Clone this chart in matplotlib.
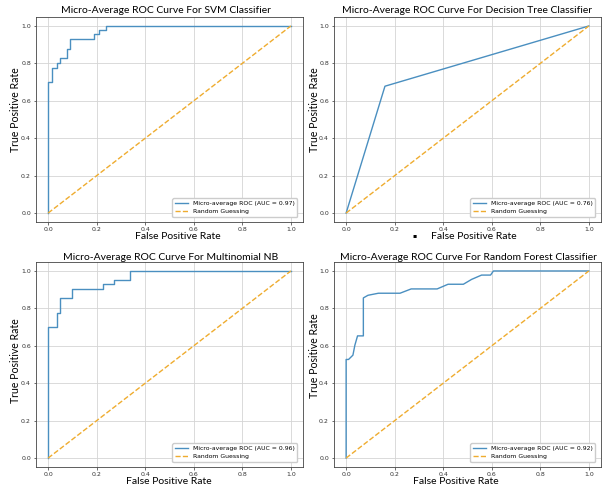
import numpy as np
import matplotlib
matplotlib.use("Agg")
import matplotlib.pyplot as plt

# titles / aucs for the four classifiers
titles = [
    "Micro-Average ROC Curve For SVM Classifier",
    "Micro-Average ROC Curve For Decision Tree Classifier",
    "Micro-Average ROC Curve For Multinomial NB",
    "Micro-Average ROC Curve For Random Forest Classifier",
]
aucs = [0.97, 0.76, 0.96, 0.92]

# ROC points
svm_fpr = [0, 0, 0.015, 0.015, 0.035, 0.035, 0.05, 0.05, 0.076, 0.076, 0.09, 0.09,
           0.187, 0.187, 0.21, 0.21, 0.238, 0.238, 1.0]
svm_tpr = [0, 0.70, 0.70, 0.775, 0.775, 0.80, 0.80, 0.83, 0.83, 0.878, 0.878, 0.93,
           0.93, 0.955, 0.955, 0.978, 0.978, 1.0, 1.0]

dt_fpr = [0, 0.16, 1.0]
dt_tpr = [0, 0.678, 1.0]

nb_fpr = [0, 0, 0.038, 0.038, 0.05, 0.05, 0.1, 0.1, 0.225, 0.225, 0.273, 0.273,
          0.338, 0.338, 1.0]
nb_tpr = [0, 0.70, 0.70, 0.777, 0.777, 0.853, 0.853, 0.902, 0.902, 0.928, 0.928,
          0.953, 0.953, 1.0, 1.0]

rf_fpr = [0, 0, 0.01, 0.028, 0.036, 0.047, 0.071, 0.071, 0.09, 0.133, 0.222, 0.268,
          0.375, 0.42, 0.483, 0.517, 0.558, 0.595, 0.607, 1.0]
rf_tpr = [0, 0.527, 0.527, 0.55, 0.603, 0.653, 0.653, 0.856, 0.87, 0.881, 0.881, 0.904,
          0.904, 0.929, 0.929, 0.955, 0.978, 0.978, 1.0, 1.0]

curves = [(svm_fpr, svm_tpr), (dt_fpr, dt_tpr), (nb_fpr, nb_tpr), (rf_fpr, rf_tpr)]

fig = plt.figure(figsize=(6.02, 4.90), dpi=100)

# axes boxes (left, bottom, width, height) in figure fraction
positions = [
    [0.0598, 0.5461, 0.4435, 0.4200],
    [0.5548, 0.5461, 0.4435, 0.4200],
    [0.0598, 0.0461, 0.4435, 0.4200],
    [0.5548, 0.0461, 0.4435, 0.4200],
]
title_x = [0.487, 0.498, 0.506, 0.504]
title_pad = [2.5, 2.5, 1.2, 1.2]
xlabel_x = [0.532, 0.524, 0.497, 0.457]
ylabel_y = [0.55, 0.55, 0.52, 0.545]
ylabel_x = [-0.058, -0.052, -0.058, -0.052]

label_font = "Lato"

for i, (fpr, tpr) in enumerate(curves):
    ax = fig.add_axes(positions[i])
    ax.plot(fpr, tpr, color="#4a8fc0", lw=1.0,
            label=f"Micro-average ROC (AUC = {aucs[i]:.2f})")
    ax.plot([0, 1], [0, 1], color="#efac2f", lw=1.0, linestyle="--",
            label="Random Guessing")
    ax.set_xticks(np.arange(0, 1.01, 0.2))
    ax.set_yticks(np.arange(0, 1.01, 0.2))
    ax.tick_params(labelsize=4.5, length=1.8, width=0.5, pad=1.8, colors="#333333")
    ax.grid(True, color="#d4d4d4", lw=0.6)
    for s in ax.spines.values():
        s.set_color("#444444")
        s.set_linewidth(0.6)

    ax.set_title(titles[i], fontsize=7.5, family=label_font, pad=title_pad[i], x=title_x[i])
    ax.set_xlabel("False Positive Rate", fontsize=7.5, family=label_font)
    ax.set_ylabel("True Positive Rate", fontsize=7.6, family=label_font)
    ax.xaxis.set_label_coords(xlabel_x[i], -0.046)
    ax.yaxis.set_label_coords(ylabel_x[i], ylabel_y[i])

    ax.legend(loc="lower right", fontsize=4.4, borderaxespad=0.9, handlelength=2.2,
              framealpha=1.0, edgecolor="#cccccc", fancybox=True)

# stray bullet next to the top-right x label
fig.text(415 / 602, 1 - 236 / 490, "\u25aa", fontsize=4.5, ha="center", va="center")

fig.savefig("out.png", dpi=100)
